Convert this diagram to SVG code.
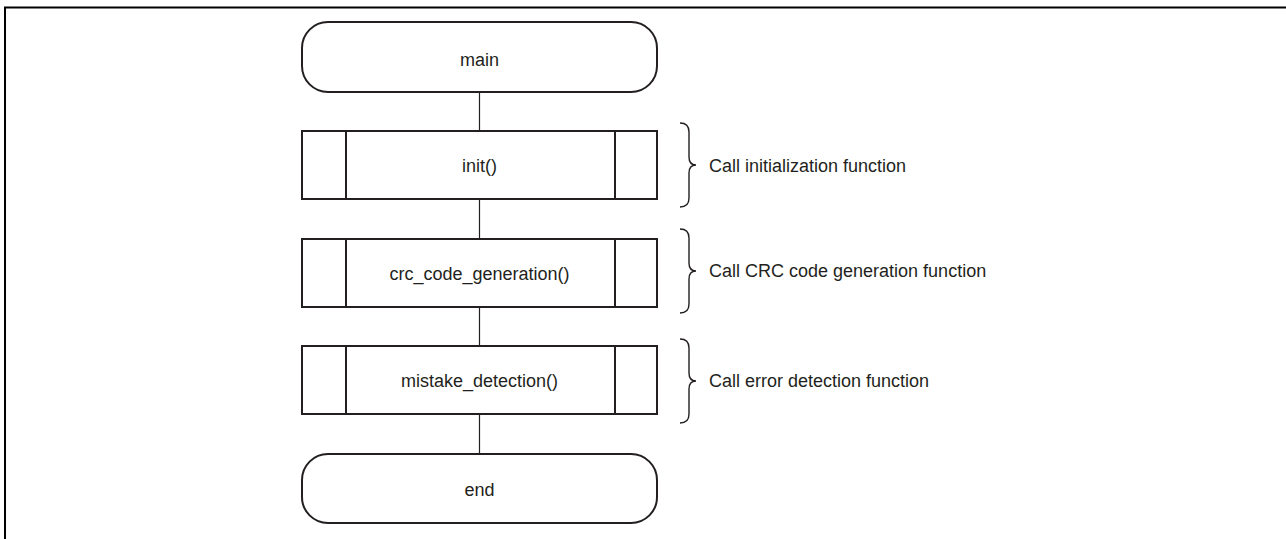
<svg xmlns="http://www.w3.org/2000/svg" width="1286" height="539" viewBox="0 0 1286 539">
<style>
.shape{fill:#fff;stroke:#231f20;stroke-width:2}
.conn{fill:none;stroke:#231f20;stroke-width:1.2}
.brace{fill:none;stroke:#231f20;stroke-width:1.4}
.frame{fill:none;stroke:#000;stroke-width:2}
text{font-family:"Liberation Sans",Arial,sans-serif;font-size:18px;fill:#231f20}
.c{text-anchor:middle}
</style>
<rect width="1286" height="539" fill="#fff"/>
<path class="frame" d="M5 539 V7.5 H1286"/>
<g id="connectors">
<line class="conn" x1="479.5" y1="92" x2="479.5" y2="131"/>
<line class="conn" x1="479.5" y1="199" x2="479.5" y2="239"/>
<line class="conn" x1="479.5" y1="307" x2="479.5" y2="346"/>
<line class="conn" x1="479.5" y1="414" x2="479.5" y2="454"/>
</g>
<g id="main">
<rect class="shape" x="302" y="22" width="355" height="70" rx="26" ry="26"/>
<text class="c" x="479.5" y="65.5">main</text>
</g>
<g id="init">
<rect class="shape" x="302" y="131" width="355" height="68"/>
<line class="shape" x1="346" y1="131" x2="346" y2="199"/>
<line class="shape" x1="615" y1="131" x2="615" y2="199"/>
<text class="c" x="479.5" y="171.5">init()</text>
</g>
<g id="crc">
<rect class="shape" x="302" y="239" width="355" height="68"/>
<line class="shape" x1="346" y1="239" x2="346" y2="307"/>
<line class="shape" x1="615" y1="239" x2="615" y2="307"/>
<text class="c" x="479.5" y="279.5">crc_code_generation()</text>
</g>
<g id="mistake">
<rect class="shape" x="302" y="346" width="355" height="68"/>
<line class="shape" x1="346" y1="346" x2="346" y2="414"/>
<line class="shape" x1="615" y1="346" x2="615" y2="414"/>
<text class="c" x="479.5" y="386.5">mistake_detection()</text>
</g>
<g id="end">
<rect class="shape" x="302" y="454" width="355" height="69" rx="26" ry="26"/>
<text class="c" x="479.5" y="495.5">end</text>
</g>
<g id="note-init">
<path class="brace" d="M680 123 Q689 123 689 132 V157 Q689 165 696 165 Q689 165 689 173 V198 Q689 207 680 207"/>
<text x="709" y="172">Call initialization function</text>
</g>
<g id="note-crc">
<path class="brace" d="M680 229 Q689 229 689 238 V263 Q689 271 696 271 Q689 271 689 279 V304 Q689 313 680 313"/>
<text x="709" y="277">Call CRC code generation function</text>
</g>
<g id="note-mistake">
<path class="brace" d="M680 339 Q689 339 689 348 V373 Q689 381 696 381 Q689 381 689 389 V414 Q689 423 680 423"/>
<text x="709" y="387">Call error detection function</text>
</g>
</svg>
